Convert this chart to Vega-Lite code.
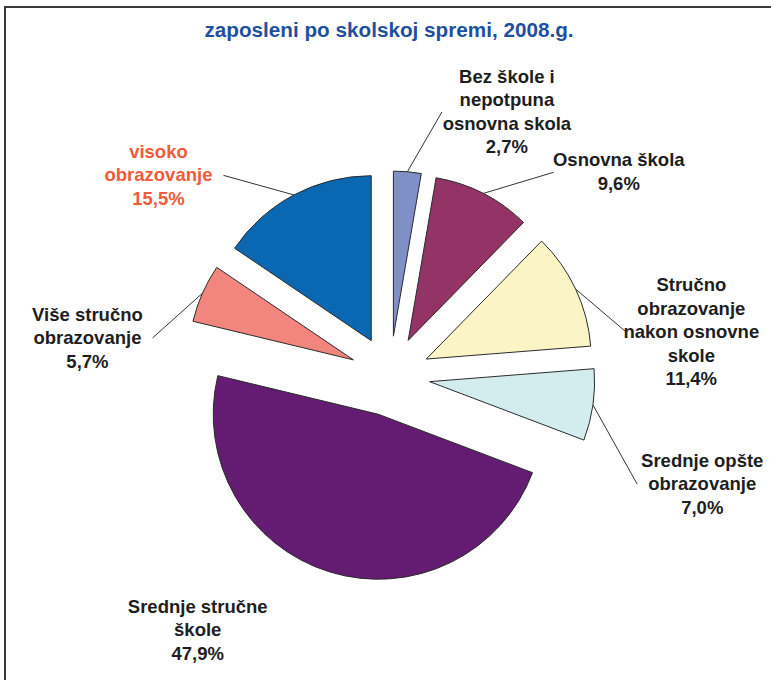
{
  "$schema": "https://vega.github.io/schema/vega-lite/v6.json",
  "autosize": "none",
  "padding": {"left": 5, "top": 7, "right": -10, "bottom": -10},
  "width": 776,
  "height": 683,
  "background": "white",
  "title": {
    "text": "zaposleni po skolskoj spremi, 2008.g.",
    "font": "Liberation Sans",
    "fontSize": 20.7,
    "fontWeight": "bold",
    "color": "#1f4fa0",
    "anchor": "middle",
    "frame": "group",
    "baseline": "alphabetic",
    "offset": -51,
    "dx": -4
  },
  "data": {
    "values": [
      {"naziv": "Bez škole i\nnepotpuna\nosnovna skola", "udio": 2.7, "red": 1},
      {"naziv": "Osnovna škola", "udio": 9.6, "red": 2},
      {"naziv": "Stručno\nobrazovanje\nnakon osnovne\nskole", "udio": 11.4, "red": 3},
      {"naziv": "Srednje opšte\nobrazovanje", "udio": 7.0, "red": 4},
      {"naziv": "Srednje stručne\nškole", "udio": 47.9, "red": 5},
      {"naziv": "Više stručno\nobrazovanje", "udio": 5.7, "red": 6},
      {"naziv": "visoko\nobrazovanje", "udio": 15.5, "red": 7}
    ]
  },
  "transform": [
    {"joinaggregate": [{"op": "sum", "field": "udio", "as": "ukupno"}]},
    {"window": [{"op": "sum", "field": "udio", "as": "kraj"}], "sort": [{"field": "red", "order": "ascending"}], "frame": [null, 0]},
    {"calculate": "(datum.kraj - datum.udio) / datum.ukupno", "as": "t0"},
    {"calculate": "datum.kraj / datum.ukupno", "as": "t1"},
    {"calculate": "PI * (datum.t0 + datum.t1)", "as": "ugao"},
    {"calculate": "sin(datum.ugao)", "as": "ux"},
    {"calculate": "cos(datum.ugao)", "as": "uy"},
    {"calculate": "0.2424 * datum.ux", "as": "ex"},
    {"calculate": "0.2424 * datum.uy", "as": "ey"},
    {"calculate": "1.2424 * datum.ux", "as": "lx1"},
    {"calculate": "1.2424 * datum.uy", "as": "ly1"},
    {"calculate": "datum.naziv + '\\n' + replace(format(datum.udio, '.1f'), '.', ',') + '%'", "as": "tekst"},
    {"calculate": "(datum.ux < 0 ? -1 : 1) * 1.9 * pow(abs(datum.ux), 0.4)", "as": "tx"},
    {"calculate": "1.55 * datum.uy - 0.544 * abs(datum.ux) + 0.102", "as": "ly2"},
    {"calculate": "datum.ly2 + (length(split(datum.tekst, '\\n')) - 1) * 0.0712", "as": "ty"},
    {"calculate": "datum.tx - (datum.ux < 0 ? -1 : 1) * 0.394", "as": "lx2"}
  ],
  "layer": [
    {
      "transform": [{"filter": "datum.uy > -0.5"}],
      "mark": {"type": "rule", "color": "#333333", "strokeWidth": 1},
      "encoding": {
        "x": {"field": "lx1", "type": "quantitative", "scale": {"domain": [-2.3333, 2.3697]}, "axis": null},
        "y": {"field": "ly1", "type": "quantitative", "scale": {"domain": [-1.903, 2.2364]}, "axis": null},
        "x2": {"field": "lx2"},
        "y2": {"field": "ly2"}
      }
    },
    {
      "mark": {"type": "arc", "radius": 165, "stroke": "#2b2b2b", "strokeWidth": 1},
      "encoding": {
        "x": {"field": "ex", "type": "quantitative", "scale": {"domain": [-2.3333, 2.3697]}, "axis": null},
        "y": {"field": "ey", "type": "quantitative", "scale": {"domain": [-1.903, 2.2364]}, "axis": null},
        "theta": {"field": "t0", "type": "quantitative", "stack": null, "scale": {"domain": [0, 1]}},
        "theta2": {"field": "t1"},
        "color": {
          "field": "naziv",
          "type": "nominal",
          "legend": null,
          "scale": {
            "domain": ["Bez škole i\nnepotpuna\nosnovna skola", "Osnovna škola", "Stručno\nobrazovanje\nnakon osnovne\nskole", "Srednje opšte\nobrazovanje", "Srednje stručne\nškole", "Više stručno\nobrazovanje", "visoko\nobrazovanje"],
            "range": ["#7f8fc8", "#943466", "#fbf5c6", "#d3ecee", "#641c72", "#f2867e", "#0a68b2"]
          }
        }
      }
    },
    {
      "mark": {"type": "text", "font": "Liberation Sans", "fontSize": 18.5, "fontWeight": "bold", "align": "center", "baseline": "middle", "lineBreak": "\n", "lineHeight": 23.5},
      "encoding": {
        "x": {"field": "tx", "type": "quantitative", "scale": {"domain": [-2.3333, 2.3697]}, "axis": null},
        "y": {"field": "ty", "type": "quantitative", "scale": {"domain": [-1.903, 2.2364]}, "axis": null},
        "text": {"field": "tekst", "type": "nominal"},
        "color": {"condition": {"test": "datum.red === 7", "value": "#ef5b3c"}, "value": "#1e1e1e"}
      }
    }
  ],
  "config": {
    "view": {"stroke": "#3a3a3a", "strokeWidth": 2}
  }
}
